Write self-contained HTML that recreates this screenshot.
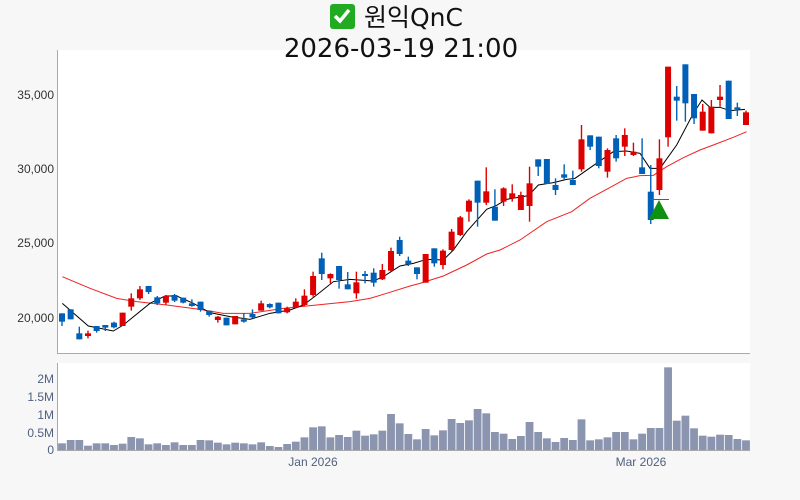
<!DOCTYPE html>
<html><head><meta charset="utf-8"><style>
body{margin:0;background:#f7f7f7;width:800px;height:500px;overflow:hidden;font-family:"Liberation Sans","Noto Sans CJK KR",sans-serif}
</style></head><body>
<svg id="s" width="800" height="500" xmlns="http://www.w3.org/2000/svg" style="position:absolute;left:0;top:0">
<rect x="57" y="50" width="693" height="303" fill="#fff"/>
<rect x="57" y="363" width="693" height="87" fill="#fff"/>
<line x1="57.5" y1="50" x2="57.5" y2="353" stroke="#aaa"/>
<line x1="57" y1="353.5" x2="750" y2="353.5" stroke="#aaa"/>
<line x1="57.5" y1="363" x2="57.5" y2="450" stroke="#aaa"/>
<line x1="57" y1="450.5" x2="750" y2="450.5" stroke="#aaa"/>
<rect x="330" y="4" width="25" height="25" rx="3" fill="#22aa22"/>
<path d="M335 16 l5 5 l9 -11" stroke="#fff" stroke-width="3.5" fill="none"/>
<text x="364" y="26" font-size="25" fill="#111" font-family="DejaVu Sans, Noto Sans CJK KR, sans-serif">원익QnC</text>
<text x="401" y="57" font-size="26" fill="#111" text-anchor="middle" font-family="DejaVu Sans, sans-serif">2026-03-19 21:00</text>
<g font-size="12" fill="#333" text-anchor="end">
<text x="54" y="99">35,000</text><text x="54" y="173">30,000</text><text x="54" y="247">25,000</text><text x="54" y="322">20,000</text>
</g>
<g font-size="12" fill="#506080" text-anchor="end">
<text x="54" y="383">2M</text><text x="54" y="401">1.5M</text><text x="54" y="419">1M</text><text x="54" y="437">0.5M</text><text x="54" y="454">0</text>
</g>
<g font-size="12" fill="#506080" text-anchor="middle">
<text x="313" y="466">Jan 2026</text><text x="641" y="466">Mar 2026</text>
</g>
<g id="c"></g>
</svg>
<script>
var d=[["b",790,815,790,828],["b",778,808,778,808],["b",850,868,830,868],["r",850,858,842,865],["b",828,843,828,848],["b",825,833,825,843],["b",818,832,815,835],["r",788,828,788,828],["r",745,770,730,782],["r",718,745,708,750],["b",708,726,708,732],["b",742,760,738,765],["r",738,758,735,765],["b",735,752,732,756],["b",743,758,743,760],["b",760,768,748,770],["b",755,780,755,785],["b",782,795,782,800],["r",800,810,798,818],["b",803,826,803,826],["r",798,823,798,823],["b",808,815,790,818],["b",792,802,778,805],["r",760,782,752,782],["b",762,772,760,775],["b",758,790,758,790],["r",775,787,770,790],["r",755,773,745,775],["r",737,765,718,768],["r",678,735,665,740],["b",625,672,608,690],["r",672,685,670,700],["b",648,690,648,716],["b",703,718,666,718],["r",697,730,665,746],["b",672,678,663,700],["b",668,698,655,710],["r",660,688,642,690],["r",603,662,593,665],["b",570,612,560,618],["b",632,642,620,648],["b",652,672,652,688],["r",612,698,612,698],["b",595,640,595,650],["r",602,645,598,658],["r",545,600,537,602],["r",502,555,498,558],["r",452,485,448,515],["b",392,458,392,530],["r",424,458,352,465],["b",470,512,418,512],["r",415,455,412,468],["r",430,445,403,455],["r",435,480,425,480],["r",400,468,350,515],["b",328,350,328,378],["b",327,402,327,402],["b",405,420,385,435],["b",373,383,343,390],["b",390,405,362,405],["r",268,358,225,365],["b",256,290,256,300],["b",260,348,260,355],["r",300,365,295,383],["b",265,325,255,335],["r",255,290,235,318],["r",305,315,278,318],["b",352,372,265,372],["b",425,510,345,522],["r",325,420,268,435],["r",50,262,50,290],["b",140,152,108,212],["b",43,160,43,215],["b",132,205,132,222],["r",185,242,162,242],["r",170,250,150,250],["r",140,150,105,170],["b",92,207,92,207],["b",172,178,158,198],["r",187,225,182,225]];
var v=[250,240,240,257,250,250,255,251,231,235,253,250,255,247,255,255,240,241,248,253,248,250,253,247,258,261,252,245,232,202,199,232,225,231,212,227,223,212,162,190,222,238,207,226,211,177,189,181,147,160,216,221,237,228,186,216,235,246,234,240,178,241,238,232,216,216,238,221,204,204,22,182,167,205,227,230,224,225,237,241];
var S=(746-62)/79;
var h="",Y=function(z){return 50+z/3};
for(var i=0;i<v.length;i++){var x=62+i*S;var t=360+v[i]/3;h+='<rect x="'+(x-3.9)+'" y="'+t+'" width="7.8" height="'+(450-t)+'" fill="#8b95b0"/>';}
var m1=[[37,760],[115,828],[190,843],[220,825],[300,760],[345,738],[380,738],[430,760],[480,788],[540,800],[600,808],[660,790],[720,780],[760,765],[800,735],[850,695],[900,688],[970,693],[1000,680],[1050,648]];
var m2=[[0,648],[40,640],[80,628],[130,630],[160,600],[200,545],[260,478],[290,466],[320,448],[385,437],[415,405],[460,398],[500,388],[525,385],[575,350],[640,305],[680,303],[720,310],[750,355],[780,355],[830,285],[880,190],[906,150],[930,172],[960,172],[990,182],[1035,178]];
var r1=[[37,680],[120,715],[200,745],[260,755],[350,765],[450,778],[520,790],[600,790],[700,775],[800,765],[900,755],[960,745],[1010,730],[1080,708]];
var r2=[[60,700],[130,678],[200,645],[260,612],[300,600],[360,570],[440,515],[515,485],[570,445],[620,418],[680,385],[720,377],[760,376],[800,350],[850,323],[900,300],[940,285],[1000,262],[1040,245]];
function pl(a,b,c){var p=a.map(function(q){return(50+q[0]/3)+","+Y(q[1])}).concat(b.map(function(q){return(400+q[0]/3)+","+Y(q[1])}));return '<polyline points="'+p.join(" ")+'" fill="none" stroke="'+c+'" stroke-width="1"/>';}
h+=pl(r1,r2,"#ee2222");h+=pl(m1,m2,"#000");
for(var i=0;i<d.length;i++){var x=62+i*S,c=d[i][0]=="r"?"#dd0000":"#0060b8";
h+='<line x1="'+x+'" x2="'+x+'" y1="'+Y(d[i][3])+'" y2="'+Y(d[i][4])+'" stroke="'+c+'" stroke-width="1.4"/>';
h+='<rect x="'+(x-3)+'" y="'+Y(d[i][1])+'" width="6" height="'+Math.max(2,(d[i][2]-d[i][1])/3)+'" fill="'+c+'"/>';}
h+='<line x1="650" x2="669" y1="199.5" y2="199.5" stroke="#109010"/><polygon points="659,200 649,219 669,219" fill="#109010"/>';
document.getElementById("c").innerHTML=h;
</script>
</body></html>
